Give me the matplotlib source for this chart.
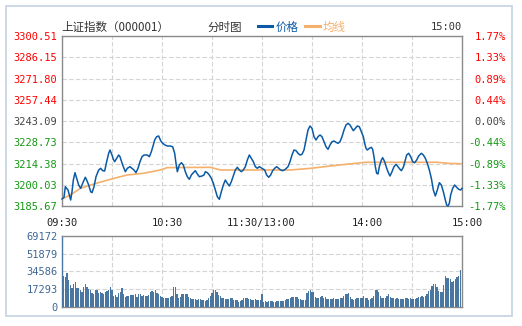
import matplotlib
matplotlib.use('Agg')
import matplotlib.pyplot as plt
from matplotlib.patches import Rectangle

# Colours
PRICE = '#0b5aa6'
AVG = '#f5b06c'
VOL = '#4a77a2'
FRAME = '#8a8a8a'
GRID = '#d4d4d4'
UP = '#ff0000'
DOWN = '#129912'
FLAT = '#444444'
TEXT = '#333333'

MONO = 'DejaVu Sans Mono'
CJK = ['Noto Sans CJK SC', 'DejaVu Sans']

PREV_CLOSE = 3243.09

# minutes since open (09:30 = 0, 11:30/13:00 = 120, 15:00 = 240)
t_min = [0, 1.2, 2, 2.8, 3.6, 4.4, 5.2, 6, 6.8, 7.8, 8.8, 10, 11.2, 12.8, 14, 14.8,
         16, 17.2, 18, 19.2, 20.4, 22, 23.2, 24.4, 25.6, 26.8, 28, 28.8, 30, 30.8,
         31.6, 32.8, 34, 34.8, 36.4, 38, 39.2, 40.8, 42, 43.2, 44.4, 45.6, 46.8, 48,
         49.2, 51.2, 52.4, 53.6, 54.8, 55.6, 56.8, 58, 59.2, 60.4, 61.8, 63.2, 64.8,
         66.4, 67.6, 68.4, 69.2, 70.4, 71.6, 72.8, 74, 75.2, 76.4, 77.6, 78.8, 80,
         81.2, 82.4, 84, 85.2, 86, 87.2, 88.4, 89.6, 90.8, 92, 93.2, 94.4, 95.6, 96.8,
         98, 99.2, 100.4, 101.6, 102.8, 104, 105.2, 106.4, 107.6, 108.8, 110, 111.2,
         112.4, 113.6, 114.8, 116, 117.2, 118.4, 120, 121.6, 122.8, 124, 125.2, 126.4,
         127.6, 128.8, 130, 131.2, 132.4, 134, 135.6, 136.8, 138, 139.2, 140.4, 141.6,
         142.8, 144, 145.2, 146.4, 147.6, 148.8, 150, 151.2, 152.4, 153.6, 154.8, 156,
         157.2, 158.4, 159.6, 160.8, 162, 163.2, 164.4, 165.6, 166.8, 168, 169.2, 170.4,
         171.6, 172.8, 174, 174.8, 176, 177.2, 178.4, 179.6, 180.8, 181.6, 182.4, 183.2,
         184.4, 185.6, 186.4, 187.2, 188, 188.8, 189.6, 190.4, 191.6, 192.4, 193.6,
         194.8, 196, 196.8, 198, 199.2, 200.4, 201.6, 202.8, 203.6, 204.8, 206, 206.8,
         208, 209.2, 210.4, 211.6, 212.8, 214, 215.6, 216.8, 218, 219.2, 220.4, 221.6,
         222.8, 224, 225.2, 226.4, 227.6, 228.8, 230, 230.8, 231.6, 232.4, 233.2, 234.4,
         235.6, 236.8, 238, 239.2, 240]

price = [3190.40, 3191.55, 3198.71, 3197.63, 3196.48, 3193.10, 3189.72, 3195.33, 3203.23,
         3208.17, 3204.38, 3199.86, 3197.63, 3202.09, 3205.06, 3203.23, 3199.86, 3195.33,
         3194.66, 3198.71, 3205.46, 3209.99, 3211.14, 3209.52, 3209.31, 3215.60, 3221.27,
         3223.50, 3220.12, 3217.22, 3215.60, 3217.89, 3220.12, 3218.97, 3213.37, 3208.84,
         3211.14, 3212.22, 3211.14, 3209.99, 3208.17, 3211.14, 3215.60, 3218.97, 3220.12,
         3220.12, 3218.97, 3222.35, 3226.88, 3230.25, 3232.48, 3232.96, 3229.78, 3228.03,
         3226.88, 3226.20, 3226.20, 3225.73, 3221.27, 3214.51, 3208.84, 3213.37, 3214.92,
         3213.37, 3208.84, 3205.46, 3203.71, 3206.61, 3208.17, 3209.52, 3207.29, 3205.46,
         3205.94, 3206.61, 3208.84, 3208.17, 3206.61, 3204.38, 3201.01, 3196.48, 3191.95,
         3190.20, 3195.33, 3199.86, 3203.23, 3201.01, 3199.18, 3202.09, 3205.94, 3209.99,
         3211.81, 3209.99, 3208.84, 3209.99, 3212.22, 3216.74, 3220.12, 3217.89, 3215.60,
         3212.22, 3211.14, 3212.22, 3211.14, 3209.99, 3206.61, 3205.06, 3206.61, 3209.52,
         3211.14, 3212.22, 3211.14, 3209.99, 3209.52, 3210.46, 3212.22, 3215.60, 3220.12,
         3223.50, 3223.05, 3221.27, 3220.12, 3220.60, 3223.50, 3230.25, 3237.01, 3239.71,
         3238.16, 3232.48, 3230.25, 3232.48, 3233.63, 3232.48, 3229.11, 3225.73, 3223.97,
         3226.88, 3229.11, 3229.58, 3228.70, 3228.03, 3229.11, 3232.48, 3237.01, 3240.39,
         3241.54, 3240.39, 3238.16, 3236.54, 3238.16, 3239.71, 3239.24, 3235.86, 3232.48,
         3228.03, 3224.65, 3223.50, 3224.65, 3225.32, 3223.97, 3218.97, 3212.22, 3207.76,
         3207.29, 3212.22, 3216.74, 3218.30, 3215.60, 3211.14, 3207.76, 3205.94, 3208.84,
         3212.22, 3213.84, 3212.22, 3210.46, 3209.52, 3211.81, 3216.74, 3220.12, 3221.27,
         3218.97, 3215.60, 3214.92, 3216.74, 3219.45, 3221.27, 3220.12, 3217.89, 3214.51,
         3209.99, 3204.38, 3196.48, 3192.43, 3196.48, 3201.41, 3199.86, 3195.33, 3189.72,
         3186.35, 3185.67, 3187.49, 3193.10, 3197.63, 3199.86, 3198.30, 3196.95, 3196.48,
         3197.63]

avg_t = [0, 5, 11, 19, 29, 39, 49, 59, 62, 63, 89, 95, 122, 137, 149, 161, 182, 225, 233, 240]
avg_price = [3190.4, 3193.1, 3197.6, 3200.5, 3203.7, 3206.6, 3207.8, 3210.0, 3211.1, 3211.6,
             3211.8, 3210.0, 3210.0, 3210.0, 3211.1, 3212.7, 3215.2, 3215.2, 3214.4, 3214.2]

# per-minute volume, minutes 1..239
volume = [29992, 29340, 33252, 26080, 21190, 18582, 21842, 24450, 17930, 17930,
          16300, 14670, 19234, 21842, 19560, 16952, 16300, 13040, 12062, 16300,
          16300, 13692, 14344, 13040, 12062, 14018, 15322, 16300, 19234, 16300,
          10432, 11410, 9780, 13040, 14018, 17930, 12062, 9780, 10758, 10758,
          11410, 11410, 11410, 12062, 9780, 12062, 12062, 10758, 11410, 10758,
          10758, 11410, 14670, 15322, 14670, 16300, 13040, 12062, 10432, 9780,
          8802, 8802, 8150, 8802, 9780, 10758, 19234, 19234, 12062, 8802,
          9780, 12062, 12062, 12062, 12062, 9780, 8150, 7498, 7498, 7498,
          6520, 7498, 7172, 6520, 6520, 5542, 6520, 8150, 10758, 13040,
          16300, 16300, 14670, 11410, 10758, 8802, 8150, 7172, 7498, 7172,
          8150, 8802, 6520, 6520, 6520, 4890, 5542, 6520, 8150, 8802,
          8150, 7498, 7172, 6520, 6194, 7172, 6520, 6520, 6520, 12062,
          4890, 5542, 4890, 5542, 5542, 5542, 4890, 4890, 5542, 5542,
          5542, 5542, 5542, 6520, 7172, 7172, 8802, 9454, 9454, 9454,
          9454, 7498, 7498, 6520, 6520, 6520, 13040, 15322, 15974, 14018,
          14018, 9780, 8150, 8150, 9780, 10758, 8802, 9780, 7498, 7172,
          7172, 7172, 8150, 7172, 7172, 7172, 8150, 8802, 10758, 12062,
          12062, 13040, 9780, 7172, 6520, 7172, 8150, 8150, 8802, 8802,
          10758, 8802, 8150, 6520, 7172, 8150, 10758, 16300, 16300, 14018,
          10758, 8802, 8150, 8150, 10758, 12062, 9780, 8802, 8150, 7172,
          8150, 7172, 7172, 7498, 7172, 8150, 8150, 7498, 8150, 7498,
          7498, 7172, 8802, 9780, 9780, 10432, 9780, 10432, 12062, 15322,
          16300, 20538, 21842, 21842, 19560, 15322, 14018, 14018, 21190, 30318,
          27710, 27710, 26732, 24450, 25102, 27058, 29340, 30318, 35860]
vol_t = list(range(1, len(volume) + 1))

price_ticks = [3185.67, 3200.03, 3214.38, 3228.73, 3243.09, 3257.44, 3271.80, 3286.15, 3300.51]
vol_ticks = [0, 17293, 34586, 51879, 69172]
time_ticks = [0, 60, 120, 180, 240]
time_labels = ['09:30', '10:30', '11:30/13:00', '14:00', '15:00']

W, H = 522, 326


def fx(px):
    return px / W


def fy(py):
    return 1 - py / H


fig = plt.figure(figsize=(W / 100, H / 100), dpi=100)
fig.patch.set_facecolor('white')
fig.patches.append(Rectangle((fx(6), fy(316)), fx(506), 310 / H, transform=fig.transFigure,
                             fill=False, ec='#c8d5e5', lw=1.3))

ax = fig.add_axes([fx(62), fy(206), fx(400), 170 / H])
axv = fig.add_axes([fx(62), fy(306.7), fx(400), 70.7 / H])

# price panel
ax.plot(avg_t, avg_price, color=AVG, lw=1.2, zorder=3, label='均线')
ax.plot(t_min, price, color=PRICE, lw=1.1, zorder=4, label='价格', clip_on=False)
ax.set_xlim(0, 240)
ax.set_ylim(price_ticks[0], price_ticks[-1])
ax.set_xticks(range(0, 241, 30))
ax.set_xticklabels([])
ax.set_yticks(price_ticks)
ax.set_yticklabels([f'{v:.2f}' for v in price_ticks], family=MONO, fontsize=7.5)
ax.tick_params(length=0, pad=3.6)
ax.grid(True, color=GRID, ls=(0, (4, 2)), lw=0.8, zorder=0)
for s in ax.spines.values():
    s.set_color(FRAME)
    s.set_linewidth(1)


def tone(v):
    if v > PREV_CLOSE + 0.005:
        return UP
    if v < PREV_CLOSE - 0.005:
        return DOWN
    return FLAT


for lab, v in zip(ax.get_yticklabels(), price_ticks):
    lab.set_color(tone(v))

axr = ax.twinx()
axr.set_ylim(ax.get_ylim())
axr.set_yticks(price_ticks)
axr.set_yticklabels([f'{(v - PREV_CLOSE) / PREV_CLOSE * 100:.2f}%' for v in price_ticks],
                    family=MONO, fontsize=7.5, ha='right')
axr.tick_params(length=0, pad=31.5)
for lab, v in zip(axr.get_yticklabels(), price_ticks):
    lab.set_color(tone(v))
for s in axr.spines.values():
    s.set_visible(False)

# volume panel
axv.bar(vol_t, volume, width=0.75, color=VOL, lw=0, zorder=3)
axv.set_xlim(0, 240)
axv.set_ylim(vol_ticks[0], vol_ticks[-1])
axv.set_xticks(range(0, 241, 30))
axv.set_xticklabels([])
axv.set_yticks(vol_ticks)
axv.set_yticklabels([str(v) for v in vol_ticks], family=MONO, fontsize=7.5, color='#3f6894')
axv.tick_params(length=0, pad=2.9)
axv.grid(True, color=GRID, ls=(0, (4, 2)), lw=0.8, zorder=0)
for s in axv.spines.values():
    s.set_color(FRAME)
    s.set_linewidth(1)
axv.spines['left'].set_color(VOL)

# time labels between the panels
for t, lab, dx in zip(time_ticks, time_labels, [0, 5, -1, 5, 5]):
    ax.annotate(lab, xy=(t, 0), xycoords=('data', 'axes fraction'), xytext=(dx, -17),
                textcoords='offset pixels', ha='center', va='center',
                family=MONO, fontsize=7.5, color='#222222')

# header
fig.text(fx(61), fy(27), '上证指数（000001）', family=CJK, fontsize=8.3, color=TEXT, va='center')
fig.text(fx(207), fy(27), '分时图', family=CJK, fontsize=8.3, color=TEXT, va='center')
fig.text(fx(462), fy(27), '15:00', family=MONO, fontsize=7.5, color=TEXT, va='center', ha='right')
h, l = ax.get_legend_handles_labels()
leg = fig.legend(h[::-1], l[::-1], loc='center left', bbox_to_anchor=(fx(258), fy(27)),
                 ncol=2, frameon=False, handlelength=1.25, handletextpad=0.3,
                 columnspacing=0.55, borderpad=0, borderaxespad=0,
                 prop={'family': CJK, 'size': 8.3}, labelcolor='linecolor')
for line in leg.get_lines():
    line.set_linewidth(2.2)

fig.savefig('out.png', dpi=100, facecolor='white')
